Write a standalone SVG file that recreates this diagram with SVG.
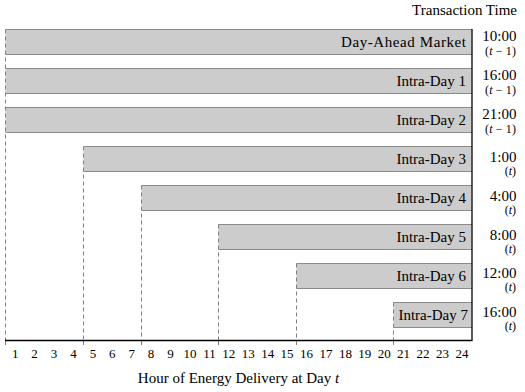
<svg xmlns="http://www.w3.org/2000/svg" width="525" height="392" viewBox="0 0 525 392">
<style>
.bar{fill:#cccccc;stroke:none}
.edge{stroke:#8a8a8a;stroke-width:1;fill:none}
.dash{stroke:#808080;stroke-width:1;stroke-dasharray:4 3;fill:none}
.tick{stroke:#808080;stroke-width:1}
.axis{stroke:#000;stroke-width:1.3;fill:none}
text{font-family:"Liberation Serif","Times New Roman",serif;fill:#000}
.lbl{font-size:15px;text-anchor:end}
.time{font-size:15px;text-anchor:end}
.sub{font-size:12px;text-anchor:end}
.hr{font-size:13px;text-anchor:middle}
.ttl{font-size:15px}
.it{font-style:italic}
</style>
<rect width="525" height="392" fill="#fff"/>
<text class="ttl" x="517" y="15" text-anchor="end">Transaction Time</text>

<g id="dayahead">
<rect class="bar" x="5.5" y="29.5" width="466" height="25"/>
<path class="edge" d="M5.5 29.5H472M5.5 54.5H472"/>
<text class="lbl" x="466" y="46.5" textLength="125" lengthAdjust="spacing">Day-Ahead Market</text>
<text class="time" x="516.5" y="41">10:00</text>
<text class="sub" x="516" y="54.5" textLength="31" lengthAdjust="spacing">(<tspan class="it">t</tspan> − 1)</text>
</g>
<g id="intraday1">
<rect class="bar" x="5.5" y="68.5" width="466" height="25"/>
<path class="edge" d="M5.5 68.5H472M5.5 93.5H472"/>
<text class="lbl" x="466" y="85.5">Intra-Day 1</text>
<text class="time" x="516.5" y="80">16:00</text>
<text class="sub" x="516" y="93.5" textLength="31" lengthAdjust="spacing">(<tspan class="it">t</tspan> − 1)</text>
</g>
<g id="intraday2">
<rect class="bar" x="5.5" y="107.5" width="466" height="25"/>
<path class="edge" d="M5.5 107.5H472M5.5 132.5H472"/>
<text class="lbl" x="466" y="124.5">Intra-Day 2</text>
<text class="time" x="516.5" y="119">21:00</text>
<text class="sub" x="516" y="132.5" textLength="31" lengthAdjust="spacing">(<tspan class="it">t</tspan> − 1)</text>
</g>
<g id="intraday3">
<rect class="bar" x="83.5" y="146.5" width="388" height="25"/>
<path class="edge" d="M83.5 146.5H472M83.5 171.5H472"/>
<text class="lbl" x="466" y="163.5">Intra-Day 3</text>
<text class="time" x="516.5" y="162">1:00</text>
<text class="sub" x="516" y="175">(<tspan class="it">t</tspan>)</text>
</g>
<g id="intraday4">
<rect class="bar" x="141.5" y="185.5" width="330" height="25"/>
<path class="edge" d="M141.5 185.5H472M141.5 210.5H472"/>
<text class="lbl" x="466" y="202.5">Intra-Day 4</text>
<text class="time" x="516.5" y="201">4:00</text>
<text class="sub" x="516" y="214">(<tspan class="it">t</tspan>)</text>
</g>
<g id="intraday5">
<rect class="bar" x="218.5" y="224.5" width="253" height="25"/>
<path class="edge" d="M218.5 224.5H472M218.5 249.5H472"/>
<text class="lbl" x="466" y="241.5">Intra-Day 5</text>
<text class="time" x="516.5" y="240">8:00</text>
<text class="sub" x="516" y="253">(<tspan class="it">t</tspan>)</text>
</g>
<g id="intraday6">
<rect class="bar" x="296.5" y="263.5" width="175" height="25"/>
<path class="edge" d="M296.5 263.5H472M296.5 288.5H472"/>
<text class="lbl" x="466" y="280.5">Intra-Day 6</text>
<text class="time" x="516.5" y="278">12:00</text>
<text class="sub" x="516" y="291">(<tspan class="it">t</tspan>)</text>
</g>
<g id="intraday7">
<rect class="bar" x="393.5" y="302.5" width="78" height="25"/>
<path class="edge" d="M393.5 302.5H472M393.5 327.5H472"/>
<text class="lbl" x="468" y="319.5">Intra-Day 7</text>
<text class="time" x="516.5" y="317">16:00</text>
<text class="sub" x="516" y="330">(<tspan class="it">t</tspan>)</text>
</g>

<g id="connectors">
<path class="dash" d="M5.5 29.5V340M83.5 146.5V340M141.5 185.5V340M218.5 224.5V340M296.5 263.5V340M393.5 302.5V340"/>
<path class="tick" d="M5.5 341V345M83.5 341V345M141.5 341V345M218.5 341V345M296.5 341V345M393.5 341V345"/>
</g>

<g id="axes">
<path class="axis" d="M5 340.5H472.5M472 29V341"/>
<g class="hr">
<text class="hr" x="15.2" y="357.5">1</text>
<text class="hr" x="34.6" y="357.5">2</text>
<text class="hr" x="54" y="357.5">3</text>
<text class="hr" x="73.5" y="357.5">4</text>
<text class="hr" x="92.9" y="357.5">5</text>
<text class="hr" x="112.3" y="357.5">6</text>
<text class="hr" x="131.7" y="357.5">7</text>
<text class="hr" x="151.1" y="357.5">8</text>
<text class="hr" x="170.6" y="357.5">9</text>
<text class="hr" x="190" y="357.5">10</text>
<text class="hr" x="209.4" y="357.5">11</text>
<text class="hr" x="228.8" y="357.5">12</text>
<text class="hr" x="248.3" y="357.5">13</text>
<text class="hr" x="267.7" y="357.5">14</text>
<text class="hr" x="287.1" y="357.5">15</text>
<text class="hr" x="306.5" y="357.5">16</text>
<text class="hr" x="325.9" y="357.5">17</text>
<text class="hr" x="345.4" y="357.5">18</text>
<text class="hr" x="364.8" y="357.5">19</text>
<text class="hr" x="384.2" y="357.5">20</text>
<text class="hr" x="403.6" y="357.5">21</text>
<text class="hr" x="423" y="357.5">22</text>
<text class="hr" x="442.5" y="357.5">23</text>
<text class="hr" x="461.9" y="357.5">24</text>
</g>
<text class="ttl" x="238.5" y="383" text-anchor="middle">Hour of Energy Delivery at Day <tspan class="it">t</tspan></text>
</g>
</svg>
